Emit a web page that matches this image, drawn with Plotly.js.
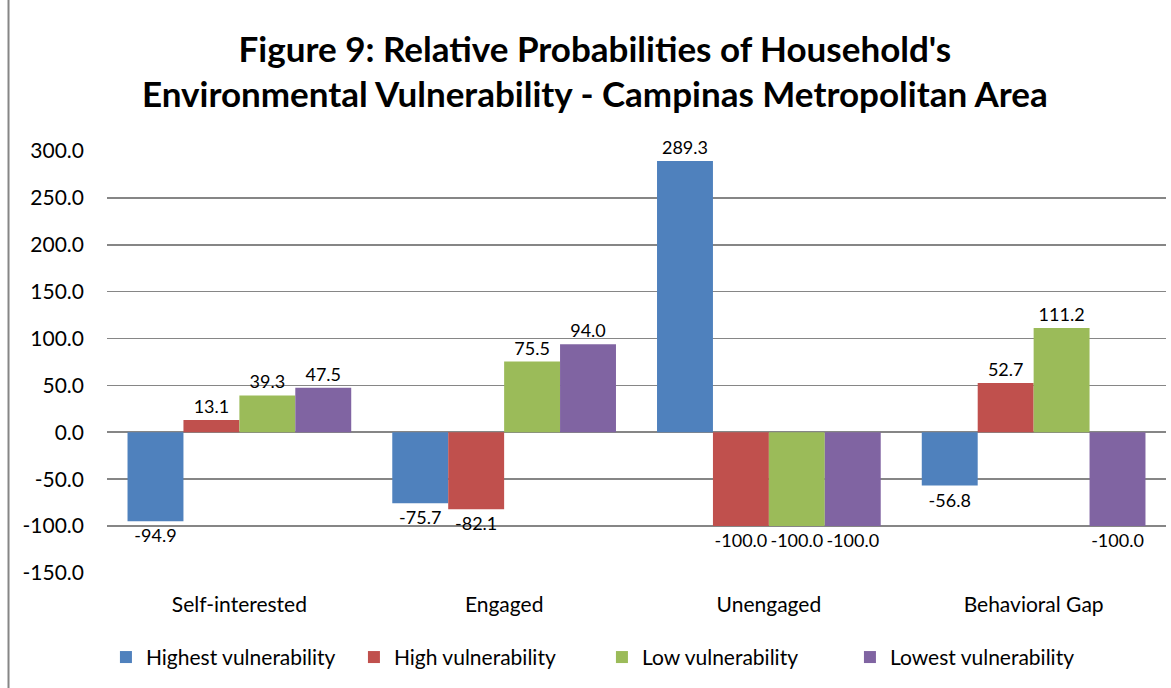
<!DOCTYPE html>
<html><head><meta charset="utf-8">
<script src="https://cdn.plot.ly/plotly-3.0.1.min.js"></script>
<style>body{margin:0;background:#fff}#chart{width:1171px;height:688px}</style>
</head><body><div id="chart"></div>
<script>
const categories = ["Self-interested", "Engaged", "Unengaged", "Behavioral Gap"];
const seriesNames = ["Highest vulnerability", "High vulnerability", "Low vulnerability", "Lowest vulnerability"];
const highest = [-94.9, -75.7, 289.3, -56.8];
const high = [13.1, -82.1, -100.0, 52.7];
const low = [39.3, 75.5, -100.0, 111.2];
const lowest = [47.5, 94.0, -100.0, -100.0];
const colors = ["#4F81BD", "#C0504D", "#9BBB59", "#8064A2"];
const tickVals = [-150, -100, -50, 0, 50, 100, 150, 200, 250, 300];
const tickText = ["-150.0", "-100.0", "-50.0", "0.0", "50.0", "100.0", "150.0", "200.0", "250.0", "300.0"];

const FONT = "Lato, 'Open Sans', sans-serif";
const data = [highest, high, low, lowest].map((vals, i) => ({
  type: "bar",
  name: seriesNames[i],
  x: categories,
  y: vals,
  marker: {color: colors[i]},
  text: vals.map(v => v.toFixed(1)),
  textposition: "outside",
  textfont: {family: FONT, size: 18, color: "#000"},
  cliponaxis: false,
  hoverinfo: "x+y+name"
}));

const layout = {
  width: 1171, height: 688,
  margin: {l: 107, r: 5, t: 151, b: 115, autoexpand: false},
  paper_bgcolor: "#fff", plot_bgcolor: "#fff",
  barmode: "group", bargap: 0.155, bargroupgap: 0,
  title: {
    text: "<b>Figure 9: Relative Probabilities of Household's<br>Environmental Vulnerability - Campinas Metropolitan Area</b>",
    font: {family: FONT, size: 35, color: "#000"},
    x: 0.508, xanchor: "center", y: 0.91, yanchor: "top"
  },
  xaxis: {
    type: "category",
    tickfont: {family: FONT, size: 21, color: "#000"},
    showgrid: false, zeroline: false, showline: false, ticks: "",
    ticklabelstandoff: 17
  },
  yaxis: {
    range: [-150, 300],
    tickvals: tickVals, ticktext: tickText,
    tickfont: {family: FONT, size: 21, color: "#000"},
    showgrid: true, gridcolor: "#868686", gridwidth: 1.5,
    zeroline: true, zerolinecolor: "#868686", zerolinewidth: 2,
    showline: false, ticks: "", ticklabelstandoff: 22
  },
  showlegend: true,
  legend: {
    orientation: "h", x: -0.001, xanchor: "left", y: -0.2, yanchor: "middle",
    font: {family: FONT, size: 21, color: "#000"},
    itemwidth: 30, entrywidth: 203, traceorder: "normal"
  },
  shapes: [{
    type: "line", xref: "paper", yref: "paper",
    x0: -0.093, x1: -0.093, y0: -0.5, y1: 2,
    line: {color: "#868686", width: 2}
  }]
};

Plotly.newPlot("chart", data, layout, {displayModeBar: false, staticPlot: true});
</script></body></html>
